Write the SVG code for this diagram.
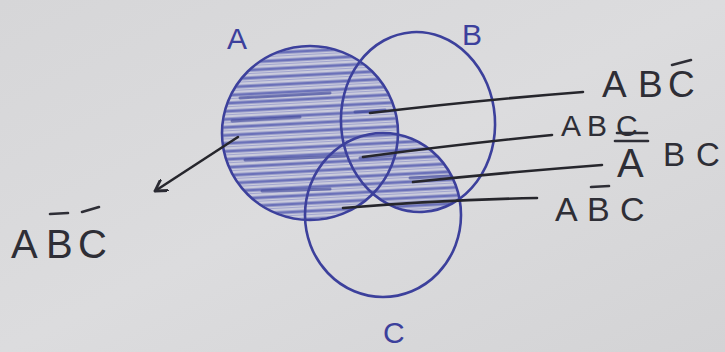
<svg xmlns="http://www.w3.org/2000/svg" width="725" height="352" viewBox="0 0 725 352">
<defs>
<linearGradient id="bg" x1="0" y1="0" x2="1" y2="1">
<stop offset="0" stop-color="#d6d6d8"/>
<stop offset="0.5" stop-color="#dcdcde"/>
<stop offset="1" stop-color="#d3d3d5"/>
</linearGradient>
<clipPath id="clipA"><ellipse cx="310" cy="133" rx="87" ry="86"/></clipPath>
<clipPath id="clipB"><ellipse cx="418" cy="122" rx="76" ry="89" transform="rotate(-4 418 122)"/></clipPath>
<clipPath id="clipC"><ellipse cx="383" cy="215" rx="77" ry="81"/></clipPath>
<pattern id="hatch" patternUnits="userSpaceOnUse" width="40" height="8" patternTransform="rotate(-3)">
<rect width="40" height="8" fill="#cacbdc"/>
<line x1="0" y1="3" x2="40" y2="3" stroke="#4a53ad" stroke-width="3" stroke-opacity="0.75"/>
<line x1="0" y1="6.5" x2="40" y2="6.5" stroke="#7a80c0" stroke-width="1" stroke-opacity="0.5"/>
</pattern>
<marker id="arr" viewBox="0 0 12 12" refX="10" refY="6" markerWidth="14" markerHeight="14" orient="auto" markerUnits="userSpaceOnUse">
<path d="M0,0 L10,6 L0,12" fill="none" stroke="#2b2b33" stroke-width="2.4" stroke-linecap="round" stroke-linejoin="round"/>
</marker>
</defs>
<style>
.ring{fill:none;stroke:#3c409c;stroke-width:2.6}
.lead{fill:none;stroke:#26262c;stroke-width:2.6;stroke-linecap:round}
.bar{stroke:#2e2e36;stroke-width:2.6;stroke-linecap:round}
.lbl{font-family:"Liberation Sans",Arial,sans-serif;fill:#2e2e36}
.set{font-family:"Liberation Sans",Arial,sans-serif;fill:#3c409c;font-size:30px}
</style>
<rect width="725" height="352" fill="url(#bg)"/>

<g id="shading">
<rect x="220" y="40" width="185" height="185" fill="url(#hatch)" clip-path="url(#clipA)"/>
<g clip-path="url(#clipB)">
<rect x="300" y="130" width="165" height="95" fill="url(#hatch)" clip-path="url(#clipC)"/>
</g>
<g stroke="#3a4299" stroke-width="3" stroke-linecap="round" opacity="0.6">
<line x1="240" y1="98" x2="330" y2="93"/>
<line x1="232" y1="121" x2="300" y2="117"/>
<line x1="245" y1="160" x2="345" y2="156"/>
<line x1="262" y1="191" x2="330" y2="189"/>
<line x1="355" y1="112" x2="385" y2="110"/>
<line x1="360" y1="158" x2="395" y2="155"/>
<line x1="410" y1="178" x2="450" y2="176"/>
</g>
</g>

<g id="setA">
<ellipse class="ring" cx="310" cy="133" rx="88" ry="87"/>
<text class="set" x="227" y="49">A</text>
</g>
<g id="setB">
<ellipse class="ring" cx="418" cy="122" rx="77" ry="90" transform="rotate(-4 418 122)"/>
<text class="set" x="462" y="45">B</text>
</g>
<g id="setC">
<ellipse class="ring" cx="383" cy="215" rx="78" ry="82"/>
<text class="set" x="383" y="343">C</text>
</g>

<g id="connectors">
<path class="lead" d="M370,113 Q480,100 583,92"/>
<path class="lead" d="M363,157 Q460,144 552,135"/>
<path class="lead" d="M413,182 Q510,172 602,165"/>
<path class="lead" d="M343,208 Q440,200 537,198"/>
<line class="lead" x1="238" y1="137" x2="155" y2="191" marker-end="url(#arr)"/>
</g>

<g id="label1">
<text class="lbl" x="602 638 668" y="97" font-size="37">ABC</text>
<line class="bar" x1="672" y1="65" x2="691" y2="60"/>
</g>
<g id="label2">
<text class="lbl" x="561 587 616" y="136" font-size="30">ABC</text>
<line class="bar" x1="617" y1="133" x2="647" y2="133"/>
</g>
<g id="label3">
<text class="lbl" x="617" y="177" font-size="40">A</text>
<text class="lbl" x="663 696" y="166" font-size="33">BC</text>
<line class="bar" x1="615" y1="141" x2="648" y2="141"/>
</g>
<g id="label4">
<text class="lbl" x="555 587 620" y="221" font-size="34">ABC</text>
<line class="bar" x1="591" y1="187" x2="609" y2="186"/>
</g>
<g id="label5">
<text class="lbl" x="11 46 78" y="258" font-size="40">ABC</text>
<line class="bar" x1="50" y1="214" x2="68" y2="213"/>
<line class="bar" x1="82" y1="212" x2="99" y2="207"/>
</g>
</svg>
